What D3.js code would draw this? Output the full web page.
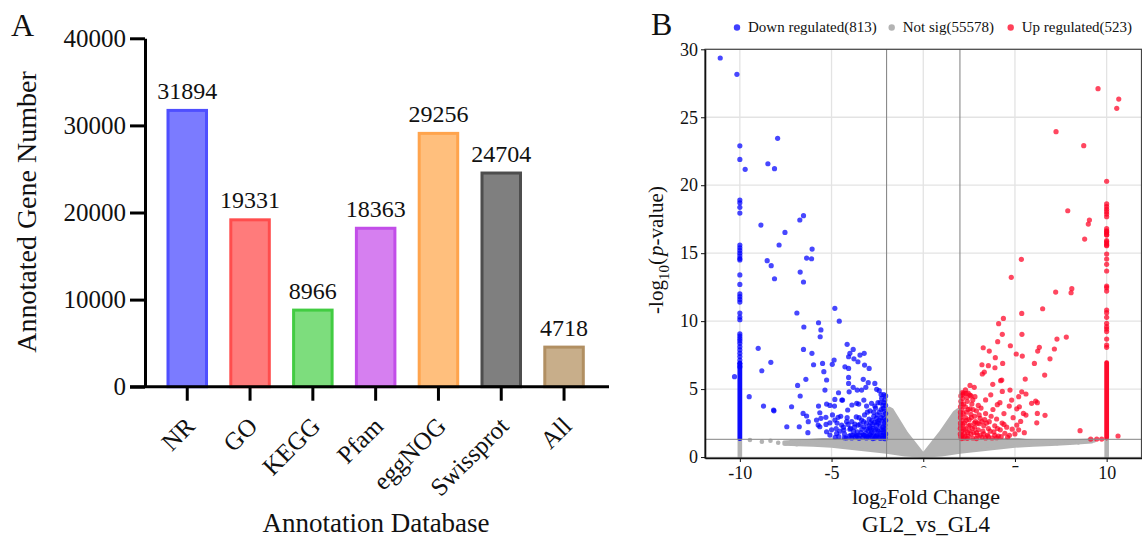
<!DOCTYPE html>
<html><head><meta charset="utf-8">
<script src="https://cdn.jsdelivr.net/npm/d3@7"></script>
<style>
html,body{margin:0;padding:0;background:#fff;}
svg{display:block;font-family:"Liberation Serif","Times New Roman",serif;}
</style></head>
<body><svg id="chart" width="1142" height="540"></svg>
<script>
// ---------- Panel A data ----------
const categories = ["NR","GO","KEGG","Pfam","eggNOG","Swissprot","All"];
const geneCounts = [31894,19331,8966,18363,29256,24704,4718];
const barFills   = ["#7b7bff","#ff7b7b","#7ddd7d","#d67ff0","#ffbf7d","#7f7f7f","#c8ae8a"];
const barStrokes = ["#4f4fff","#ff4d4d","#42cc42","#c24ee8","#ffa44d","#4d4d4d","#b18f62"];
const yTicksA = [0,10000,20000,30000,40000];

// ---------- Panel B data ----------
const volcanoXTicks = [-10,-5,0,5,10];
const volcanoYTicks = [0,5,10,15,20,25,30];
const legendLabels = ["Down regulated(813)","Not sig(55578)","Up regulated(523)"];
const fcThreshold = 2;
const pThreshold = 1.301;

const downPoints = [
[-11.07,29.36],[-10.16,28.16],[-10,22.9],[-10,21.9],[-9.71,21.17],[-7.94,23.45],[-8.47,21.58],[-8.11,21.22],
[-10,18.91],[-10,18.71],[-10,18.37],[-10,17.95],[-8.85,17.07],[-6.73,17.44],[-6.53,17.76],[-7.54,16.53],[-7.86,15.6],[-6.06,15.3],
[-10,15.6],[-10,15.4],[-10,15.2],[-10,15.0],[-10,14.8],[-10,14.6],[-10,14.5],
[-10,13.4],[-10,12.7],[-10,12.0],[-10,11.8],[-10,11.6],[-10,11.4],[-10,10.6],[-10,10.3],[-10,10.1],
[-10,9.07],[-10,8.9],[-10,8.73],[-10,8.56],[-10,8.37],[-10,8.12],[-10,7.88],[-10,7.63],[-10,7.39],[-10,7.14],[-10,6.9],[-10,6.65],
[-10.29,5.91],[-9.49,4.44],[-9.0,8.0],
[-6.36,14.64],[-6.09,14.59],[-8.51,14.45],[-8.29,14.08],[-8.11,13.12],[-6.71,13.61],[-6.53,12.88],
[-6.89,10.6],[-6.51,9.57],[-4.82,10.94],[-4.58,10.0],
[-8.8,6.35],[-8.31,6.97],[-8.71,3.75],[-8.16,3.46],[-8.14,3.40],[-7.44,2.23],[-6.76,2.23],[-6.29,1.79],[-7.18,3.7],[-6.71,4.49],[-6.85,5.27],[-6.4,5.72],
[-6.53,7.92],[-6.07,7.63],[-5.71,9.88],[-5.58,9.35],[-5.62,8.85],[-5.98,6.79],[-5.49,6.89],[-5.42,6.28],
[-4.86,7.14],[-4.96,6.82],[-4.15,8.29],[-4.0,7.63],[-3.82,7.92],[-4.07,7.38],[-3.78,7.23],[-3.56,7.01],[-3.45,7.5],[-3.22,7.63],[-4.27,6.64],[-4.07,6.52],[-3.2,6.77],[-2.95,6.52],
[-5.27,5.67],[-5.36,4.93],[-4.62,4.73],[-4.44,4.19],[-4.07,5.86],[-4.07,5.42],[-4.04,4.8],[-3.82,5.13],[-3.6,4.93],[-3.27,5.72],[-3.13,5.13],[-3.0,5.47],[-3.36,4.93],[-2.64,5.42],[-2.54,4.98],[-2.4,4.88],
[-5.71,3.75],[-5.64,3.26],[-5.27,3.9],[-5.09,3.8],[-4.82,4.24],[-4.84,3.75],[-4.4,4.19],[-4.12,3.46],[-3.89,3.83],[-3.63,3.95],[-3.52,3.9],[-3.24,4.19],[-3.09,3.75],[-2.82,3.95],[-2.64,3.75],[-2.47,4.0],[-2.27,4.32],[-2.18,3.58],
[-6.55,3.21],[-6.36,3.02],[-6.27,2.6],[-5.82,2.72],[-5.73,2.35],[-5.58,2.85],[-5.31,2.92],[-5.09,2.52],[-4.82,2.72],[-4.64,2.92],
[-4.45,2.35],[-4.33,1.99],[-4.18,2.6],[-3.96,2.11],[-3.73,2.43],[-3.6,1.86],[-3.36,2.72],[-3.24,2.23],[-3.0,1.94],[-2.87,2.52],[-2.73,2.11],[-2.54,2.35],[-2.4,2.72],[-2.18,1.99],[-2.09,2.35],[-2.21,3.09],[-2.14,2.85],
[-3.94,1.62],[-3.67,1.62],[-3.27,1.62],[-2.91,1.62],[-2.54,1.62],[-2.18,1.62],
[-5.64,2.23],[-5.27,1.86],[-5.09,1.62],[-4.72,1.74],
[-2.1,1.5],[-2.15,1.8],[-2.1,2.1],[-2.12,2.5],[-2.2,1.4],[-2.3,1.6],[-2.25,2.0],[-2.35,2.3],[-2.3,2.9],[-2.4,1.45],[-2.45,1.9],[-2.5,2.6],
[-2.55,1.55],[-2.6,2.05],[-2.65,1.4],[-2.7,1.75],[-2.75,2.4],[-2.8,1.5],[-2.85,2.0],[-2.9,1.65],[-2.95,2.3],[-3.05,1.5],[-3.1,2.5],[-3.15,1.75],
[-3.3,1.45],[-3.35,2.05],[-3.45,1.6],[-3.55,2.35],[-3.7,1.5],[-3.8,1.9],[-3.9,2.6],[-4.05,1.55],[-4.15,2.9],[-4.3,1.7],[-4.5,3.0],[-4.6,1.5],
[-4.75,2.1],[-4.95,3.1],[-2.12,3.4],[-2.2,3.8],[-2.4,3.3],[-2.6,3.6],[-2.05,4.5],[-2.1,4.2],[-2.3,4.6],[-2.5,3.1],[-2.7,3.0],[-2.9,3.4],[-3.2,3.1],[-3.5,2.9],
[-2.08,1.35],[-2.35,1.38],[-2.75,1.36],[-3.1,1.4],[-3.5,1.38],[-3.9,1.4],[-4.3,1.42],[-4.8,1.45],
[-2.05,1.7],[-2.05,2.7],[-2.05,3.2],[-2.05,3.8],[-2.15,4.0],[-2.2,2.2],[-2.25,2.65],[-2.3,3.5],[-2.35,1.75],[-2.45,2.5],[-2.5,2.0],[-2.55,2.85],
[-2.6,1.5],[-2.65,2.55],[-2.7,3.3],[-2.8,1.8],[-2.8,2.7],[-2.9,2.15],[-2.95,2.8],[-3.0,1.45],[-3.05,3.3],[-3.1,2.05],[-3.2,1.6],[-3.25,2.6],
[-3.4,1.8],[-3.45,2.4],[-3.6,1.55],[-3.65,2.95],[-3.75,2.2],[-3.85,1.6],[-4.0,2.05],[-4.1,2.4],[-4.2,1.4],[-4.35,2.2],[-4.55,1.9],[-4.7,2.5],
[-5.0,2.0],[-5.3,2.4],[-2.15,4.6],[-2.35,4.0]
];

const upPoints = [
[9.53,27.1],[10.66,26.34],[10.55,25.66],[7.24,23.94],[8.75,22.91],[10,20.29],[7.88,18.12],[9.06,17.44],[9.0,17.14],[8.8,16.04],
[10,18.62],[10,18.42],[10,18.23],[10,18.05],[10,17.88],[10,17.68],[10,16.8],[10,16.65],[10,16.5],[10,16.36],[10,15.92],[10,15.72],[10,15.55],
[10,16.58],[10,16.34],[10,15.84],[10,15.6],[10,14.94],[10,14.57],[10,14.18],[10,13.69],[10,12.58],[10,12.46],[10,12.21],
[10,10.82],[10,10.62],[10,10.28],[10,9.84],[10,9.59],[10,9.42],[10,9.23],[10,8.68],[10,8.24],[10,8.07],
[5.35,14.55],[4.8,13.22],[7.22,12.14],[8.1,12.39],[8.06,12.09],[6.51,10.91],[5.37,10.57],[4.37,10.2],[4.11,9.81],[4.31,9.03],[5.38,9.03],
[4.06,8.49],[7.29,8.68],[7.8,8.83],[3.27,8.04],[4.75,8.19],[3.6,7.8],[6.33,8.07],[6.24,7.8],[7.15,7.95],[5.07,7.58],[5.4,7.43],[3.93,7.31],[6.91,7.23],
[3.2,6.79],[3.55,6.72],[4.33,6.89],[6.06,6.89],[3.91,6.57],[3.22,6.11],[3.33,6.25],[6.62,6.03],[5.56,5.74],[4.28,5.67],[4.22,5.62],[3.79,5.35],
[2.55,5.27],[2.78,5.13],[4.73,4.93],[4.31,4.83],[5.37,4.8],[5.6,4.64],[2.33,4.69],[2.55,4.56],[2.82,4.44],[3.68,4.58],[5.2,4.44],
[6.13,4.12],[6.22,4.0],[5.91,3.95],[4.82,4.19],[4.69,3.75],[4.18,4.0],[4.04,3.85],[5.24,3.7],[5.1,3.55],[5.46,3.21],[6.22,3.21],[6.64,3.07],
[5.6,3.09],[6.19,2.52],[5.31,2.62],[5.1,2.35],[5.51,1.79],[8.55,1.94],[10.62,1.55],[9.13,1.32],[9.46,1.32],[9.73,1.32],
[2.05,1.5],[2.1,1.9],[2.05,2.3],[2.1,2.7],[2.05,3.1],[2.1,3.5],[2.08,3.9],[2.15,4.3],[2.2,1.4],[2.25,1.75],[2.3,2.1],[2.25,2.5],[2.3,2.9],
[2.35,3.3],[2.3,3.7],[2.4,4.1],[2.45,1.55],[2.5,1.95],[2.55,2.35],[2.5,2.75],[2.6,3.15],[2.55,3.55],[2.65,3.9],[2.7,1.4],[2.75,1.8],[2.8,2.2],
[2.85,2.6],[2.8,3.0],[2.9,3.4],[2.95,1.6],[3.0,2.0],[3.05,2.45],[3.1,2.85],[3.15,3.6],[3.2,1.45],[3.25,1.9],[3.3,2.3],[3.35,2.75],[3.4,3.2],
[3.5,1.6],[3.55,2.1],[3.6,2.6],[3.7,3.0],[3.75,1.4],[3.85,1.85],[3.9,2.3],[4.0,2.8],[4.1,1.55],[4.2,2.0],[4.3,2.5],[4.45,1.75],[4.55,2.2],
[4.7,1.6],[4.85,2.05],[5.0,1.7],[3.0,3.8],[3.4,4.2],[2.2,4.7],[2.6,4.5],[3.8,3.5],[4.4,3.2],[4.9,2.9],[5.2,2.0],
[2.08,1.36],[2.4,1.38],[2.9,1.36],[3.4,1.4],[4.0,1.42],[4.6,1.45],[2.12,4.75],[2.3,4.95],
[2.02,1.7],[2.02,2.1],[2.03,2.5],[2.03,2.9],[2.03,3.3],[2.03,3.7],[2.05,4.1],[2.05,4.5],[2.12,1.6],[2.15,2.4],[2.18,3.2],[2.2,3.9],
[2.22,2.05],[2.28,1.5],[2.35,2.7],[2.38,4.4],[2.42,1.8],[2.45,3.5],[2.48,2.3],[2.6,1.7],[2.62,2.9],[2.68,2.1],[2.72,3.5],[2.78,2.5],
[2.9,1.8],[2.95,2.5],[3.05,3.1],[3.1,1.6],[3.2,2.6],[3.3,1.7],[3.45,2.5],[3.55,1.5],[3.65,1.9],[3.9,1.6],[4.05,2.1],[4.25,1.5],
[4.4,2.4],[2.15,4.6],[2.45,4.7],[2.7,4.2]
];

// dense vertical runs of points at |log2FC| = 10 (x, from y, to y)
const downColumn = [-10, 1.35, 6.9];
const upColumn   = [10, 1.4, 6.95];
const notSigColumns = [[-10, 0.02, 1.3],[10, 0.02, 1.3]];

// outline of the dense not-significant cloud
const notSigEnvelope = [
[-7.6,1.1],[-6.5,1.2],[-5.5,1.3],[-2.05,1.3],[-2.02,3.3],[-1.85,3.6],[-1.7,3.5],[-0.9,1.75],[0,0.22],[0.9,1.75],[1.7,3.3],[1.9,3.5],[2.0,3.3],
[2.02,1.3],[5.2,1.3],[6.0,1.15],[7.0,1.15],[8.0,1.2],[9.2,1.25],
[9.2,1.1],[8.0,1.0],[7.0,0.92],[6.0,0.86],[5.0,0.8],[4.0,0.65],[3.0,0.5],[2.0,0.35],[1.0,0.15],[0,0.05],[-1.0,0.15],[-2.0,0.35],[-3.0,0.5],
[-4.0,0.65],[-5.0,0.8],[-6.0,0.86],[-7.6,0.95]
];
const notSigPoints = [
[-9.45,1.25],[-8.8,1.13],[-8.33,1.2],[-7.91,1.05],[-7.5,1.0],[-7.2,1.1],[-6.9,0.95],[-6.6,1.05],
[6.8,1.0],[7.3,1.02],[7.6,1.05],[7.9,1.1],[8.2,1.12],[8.46,1.08],[8.7,1.15],[9.0,1.2],[9.3,1.22]
];

// ---------- drawing ----------
const svg = d3.select("#chart");
const FONT = "'Liberation Serif','Times New Roman',serif";

// ===== Panel A =====
const yA = d3.scaleLinear().domain([0,40000]).range([386.7,38.3]);
const xA = d3.scaleBand().domain(categories).range([166.5,584.8]).paddingInner(0.339).paddingOuter(0);
const gA = svg.append("g");

gA.selectAll("rect.bar").data(categories).join("rect")
  .attr("class","bar")
  .attr("x", d => xA(d)+1.5)
  .attr("width", xA.bandwidth()-3)
  .attr("y", (d,i) => yA(geneCounts[i])+1.5)
  .attr("height", (d,i) => yA(0)-yA(geneCounts[i])-1.5)
  .attr("fill", (d,i) => barFills[i])
  .attr("stroke", (d,i) => barStrokes[i])
  .attr("stroke-width", 3);

gA.selectAll("text.val").data(categories).join("text")
  .attr("class","val")
  .attr("x", d => xA(d)+xA.bandwidth()/2)
  .attr("y", (d,i) => yA(geneCounts[i])-10)
  .attr("text-anchor","middle")
  .attr("font-size",24).attr("font-family",FONT).attr("fill","#111")
  .text((d,i) => geneCounts[i]);

const yAxisA = gA.append("g").attr("transform","translate(145,0)")
  .call(d3.axisLeft(yA).tickValues(yTicksA).tickSize(15).tickSizeOuter(0).tickPadding(4).tickFormat(d3.format("d")));
yAxisA.selectAll("line").attr("stroke","#000").attr("stroke-width",3);
yAxisA.select(".domain").attr("stroke","#000").attr("stroke-width",3);
yAxisA.selectAll("text").attr("font-size",25).attr("font-family",FONT).attr("fill","#111");

const xAxisA = gA.append("g").attr("transform",`translate(0,${yA(0)})`)
  .call(d3.axisBottom(xA).tickSize(14).tickSizeOuter(0));
xAxisA.select(".domain").remove();
xAxisA.selectAll("line").attr("stroke","#000").attr("stroke-width",3);
xAxisA.selectAll("text").remove();
xAxisA.selectAll(".tick").append("text")
  .attr("transform","translate(9,41) rotate(-45)")
  .attr("text-anchor","end")
  .attr("font-size",25).attr("font-family",FONT).attr("fill","#111")
  .text(d => d);
gA.append("line").attr("x1",130).attr("x2",609).attr("y1",yA(0)).attr("y2",yA(0))
  .attr("stroke","#000").attr("stroke-width",3);

gA.append("text").attr("transform","translate(36,212) rotate(-90)")
  .attr("text-anchor","middle").attr("font-size",28).attr("font-family",FONT).attr("fill","#111")
  .text("Annotated Gene Number");
gA.append("text").attr("x",376).attr("y",532).attr("text-anchor","middle")
  .attr("font-size",27).attr("font-family",FONT).attr("fill","#111")
  .text("Annotation Database");
gA.append("text").attr("x",11).attr("y",36).attr("font-size",32).attr("font-family",FONT).attr("fill","#111").text("A");

// ===== Panel B =====
const xB = d3.scaleLinear().domain([-11.9,11.9]).range([705,1141.5]);
const yB = d3.scaleLinear().domain([-0.07,30]).range([458,49.3]);
const gB = svg.append("g");
const [px0,px1] = xB.range(), [py0,py1] = yB.range();

const defs = svg.append("defs");
defs.append("clipPath").attr("id","plotclip")
  .append("rect").attr("x",px0).attr("y",py1).attr("width",px1-px0).attr("height",py0-py1);

// grid
gB.append("g").selectAll("line").data(volcanoXTicks).join("line")
  .attr("x1",d=>xB(d)).attr("x2",d=>xB(d)).attr("y1",py0).attr("y2",py1)
  .attr("stroke","#e3e3e3").attr("stroke-width",1.3);
gB.append("g").selectAll("line").data(volcanoYTicks).join("line")
  .attr("x1",px0).attr("x2",px1).attr("y1",d=>yB(d)).attr("y2",d=>yB(d))
  .attr("stroke","#e3e3e3").attr("stroke-width",1.3);

const plot = gB.append("g").attr("clip-path","url(#plotclip)");

// not significant cloud
plot.append("path").datum(notSigEnvelope)
  .attr("d", d3.line().x(d=>xB(d[0])).y(d=>yB(d[1])).curve(d3.curveLinearClosed))
  .attr("fill","#b3b3b3").attr("stroke","#b3b3b3").attr("stroke-width",3).attr("stroke-linejoin","round");
plot.selectAll("circle.ns").data(notSigPoints).join("circle").attr("class","ns")
  .attr("cx",d=>xB(d[0])).attr("cy",d=>yB(d[1])).attr("r",2.3).attr("fill","#b3b3b3");
plot.selectAll("line.nscol").data(notSigColumns).join("line").attr("class","nscol")
  .attr("x1",d=>xB(d[0])).attr("x2",d=>xB(d[0])).attr("y1",d=>yB(d[1])).attr("y2",d=>yB(d[2]))
  .attr("stroke","#b3b3b3").attr("stroke-width",4.6).attr("stroke-linecap","round");

// significant
const BLUE = "#0000ff", RED = "#ff0022";
plot.append("line").datum(downColumn)
  .attr("x1",d=>xB(d[0])).attr("x2",d=>xB(d[0])).attr("y1",d=>yB(d[1])).attr("y2",d=>yB(d[2]))
  .attr("stroke",BLUE).attr("stroke-width",4.8).attr("stroke-linecap","round").attr("opacity",0.95);
plot.append("line").datum(upColumn)
  .attr("x1",d=>xB(d[0])).attr("x2",d=>xB(d[0])).attr("y1",d=>yB(d[1])).attr("y2",d=>yB(d[2]))
  .attr("stroke",RED).attr("stroke-width",4.8).attr("stroke-linecap","round").attr("opacity",0.95);
plot.selectAll("circle.dn").data(downPoints).join("circle").attr("class","dn")
  .attr("cx",d=>xB(d[0])).attr("cy",d=>yB(d[1])).attr("r",2.6).attr("fill",BLUE).attr("fill-opacity",0.72);
plot.selectAll("circle.up").data(upPoints).join("circle").attr("class","up")
  .attr("cx",d=>xB(d[0])).attr("cy",d=>yB(d[1])).attr("r",2.6).attr("fill",RED).attr("fill-opacity",0.72);

// threshold lines
plot.selectAll("line.vth").data([-fcThreshold, fcThreshold]).join("line").attr("class","vth")
  .attr("x1",d=>xB(d)).attr("x2",d=>xB(d)).attr("y1",py0).attr("y2",py1)
  .attr("stroke","#8a8a8a").attr("stroke-width",1.1);
plot.append("line").attr("class","hth")
  .attr("x1",px0).attr("x2",px1).attr("y1",yB(pThreshold)).attr("y2",yB(pThreshold))
  .attr("stroke","#8a8a8a").attr("stroke-width",1.1).attr("opacity",0.85);

// border
gB.append("rect").attr("x",px0).attr("y",py1).attr("width",px1-px0).attr("height",py0-py1)
  .attr("fill","none").attr("stroke","#444").attr("stroke-width",1.2);

// axes
const yAxisB = gB.append("g").attr("transform",`translate(${px0},0)`)
  .call(d3.axisLeft(yB).tickValues(volcanoYTicks).tickSize(4).tickSizeOuter(0).tickPadding(3));
yAxisB.select(".domain").attr("stroke","#111").attr("stroke-width",1.6);
yAxisB.selectAll("line").attr("stroke","#111");
yAxisB.selectAll("text").attr("font-size",18).attr("font-family",FONT).attr("fill","#111");

defs.append("clipPath").attr("id","tickclip")
  .append("rect").attr("x",-20).attr("y",-10).attr("width",40).attr("height",19.5);
const xAxisB = gB.append("g").attr("transform",`translate(0,${py0})`)
  .call(d3.axisBottom(xB).tickValues(volcanoXTicks).tickSize(4).tickSizeOuter(0).tickPadding(4));
xAxisB.select(".domain").attr("stroke","#111").attr("stroke-width",1.6);
xAxisB.selectAll("line").attr("stroke","#111");
xAxisB.selectAll("text").attr("font-size",18).attr("font-family",FONT).attr("fill","#111")
  .text(d => d < 0 ? "-" + Math.abs(d) : d)
  .attr("clip-path", d => (d === 0 || d === 5) ? "url(#tickclip)" : null);

// titles
const yt = gB.append("text").attr("transform","translate(663,250) rotate(-90)")
  .attr("text-anchor","middle").attr("font-size",21).attr("font-family",FONT).attr("fill","#111");
yt.append("tspan").text("-log");
yt.append("tspan").attr("font-size",15).attr("dy",6).text("10");
yt.append("tspan").attr("dy",-6).text("(");
yt.append("tspan").attr("font-style","italic").attr("dx",2).text("p");
yt.append("tspan").text("-value)");

const xt = gB.append("text").attr("x",926).attr("y",504).attr("text-anchor","middle")
  .attr("font-size",22).attr("font-family",FONT).attr("fill","#111");
xt.append("tspan").text("log");
xt.append("tspan").attr("font-size",14).attr("dy",4).text("2");
xt.append("tspan").attr("dy",-4).text("Fold Change");
gB.append("text").attr("x",926).attr("y",532).attr("text-anchor","middle")
  .attr("font-size",23).attr("font-family",FONT).attr("fill","#111").text("GL2_vs_GL4");

// legend
const legendColors = [BLUE,"#b3b3b3",RED];
const legendX = [748,902.7,1021.7];
const lg = gB.append("g");
lg.selectAll("circle").data(legendLabels).join("circle")
  .attr("cx",(d,i)=>legendX[i]-11).attr("cy",27.5).attr("r",3.2)
  .attr("fill",(d,i)=>legendColors[i]).attr("fill-opacity",(d,i)=>i===1?1:0.75);
lg.selectAll("text").data(legendLabels).join("text")
  .attr("x",(d,i)=>legendX[i]).attr("y",32)
  .attr("font-size",15).attr("font-family",FONT).attr("fill","#111").text(d=>d);

gB.append("text").attr("x",651).attr("y",35).attr("font-size",32).attr("font-family",FONT).attr("fill","#111").text("B");
</script></body></html>
